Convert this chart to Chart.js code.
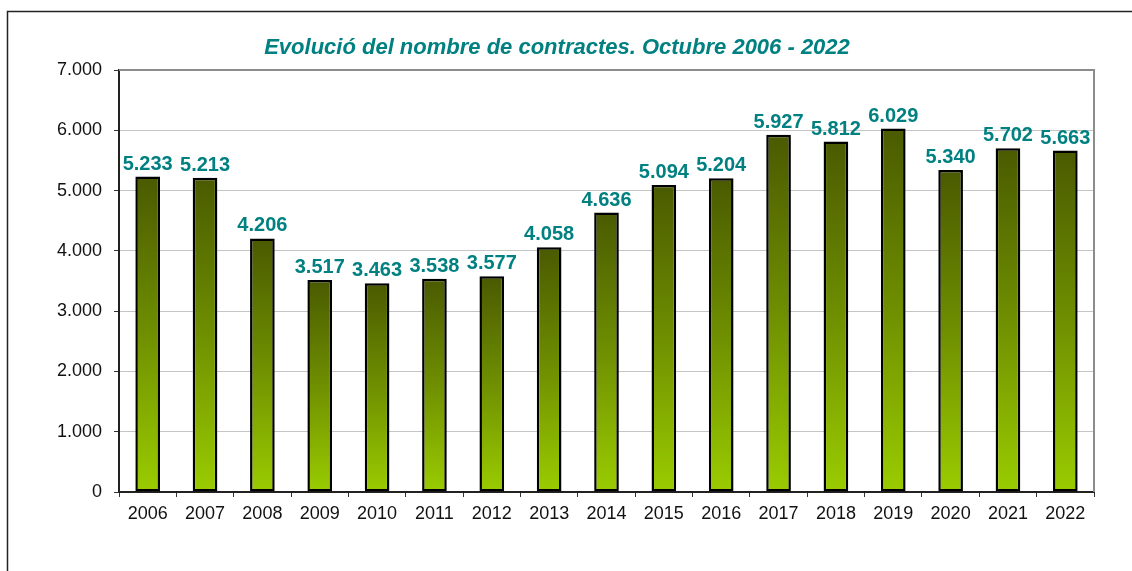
<!DOCTYPE html>
<html>
<head>
<meta charset="utf-8">
<script src="https://cdn.jsdelivr.net/npm/chart.js@4/dist/chart.umd.min.js"></script>
<style>
  html, body { margin: 0; padding: 0; background: #fff; }
  #wrap { width: 1132px; height: 571px; position: relative; }
</style>
</head>
<body>
<div id="wrap"><canvas id="chart"></canvas></div>
<script>
// Dades
const titol = 'Evolució del nombre de contractes. Octubre 2006 - 2022';
const anys = ['2006', '2007', '2008', '2009', '2010', '2011', '2012', '2013', '2014',
              '2015', '2016', '2017', '2018', '2019', '2020', '2021', '2022'];
const contractes = [5233, 5213, 4206, 3517, 3463, 3538, 3577, 4058, 4636,
                    5094, 5204, 5927, 5812, 6029, 5340, 5702, 5663];
const yMax = 7000;
const yPas = 1000;

const teal = '#008080';

// format català: punt com a separador de milers
function fmt(v) {
    return String(v).replace(/\B(?=(\d{3})+(?!\d))/g, '.');
}

// Degradat per barra (fosc a dalt, clar a baix)
function barGradient(context) {
    const chart = context.chart;
    if (!chart.chartArea || !chart.scales.y) return '#7a9a00';
    const v = context.raw;
    const yTop = chart.scales.y.getPixelForValue(v);
    const yBase = chart.scales.y.getPixelForValue(0);
    const g = chart.ctx.createLinearGradient(0, yTop, 0, yBase);
    g.addColorStop(0, '#4a5a00');
    g.addColorStop(0.5, '#6f8f00');
    g.addColorStop(1, '#9acc00');
    return g;
}

// Marc exterior, vora de l'àrea del gràfic, títol i etiquetes
const decor = {
    id: 'decor',
    beforeDraw(chart) {
        const ctx = chart.ctx;
        ctx.save();
        ctx.strokeStyle = '#222';
        ctx.lineWidth = 1.5;
        ctx.beginPath();
        ctx.moveTo(7.5, chart.height);
        ctx.lineTo(7.5, 11.5);
        ctx.lineTo(chart.width, 11.5);
        ctx.stroke();
        ctx.restore();
    },
    afterDatasetsDraw(chart) {
        const ctx = chart.ctx;
        const a = chart.chartArea;
        ctx.save();
        // vora superior i dreta en gris
        ctx.strokeStyle = '#8c8c8c';
        ctx.lineWidth = 2;
        ctx.beginPath();
        ctx.moveTo(a.left, a.top);
        ctx.lineTo(a.right, a.top);
        ctx.lineTo(a.right, a.bottom);
        ctx.stroke();

        // títol
        ctx.fillStyle = teal;
        ctx.font = 'italic bold 22px "Liberation Sans", Arial, sans-serif';
        ctx.textAlign = 'center';
        ctx.textBaseline = 'middle';
        ctx.fillText(titol, 557, 48);

        // etiquetes de valor
        ctx.font = 'bold 20px "Liberation Sans", Arial, sans-serif';
        ctx.textBaseline = 'alphabetic';
        const meta = chart.getDatasetMeta(0);
        meta.data.forEach((bar, i) => {
            ctx.fillText(fmt(contractes[i]), bar.x, bar.y - 7);
        });
        ctx.restore();
    }
};

new Chart(document.getElementById('chart'), {
    type: 'bar',
    data: {
        labels: anys,
        datasets: [{
            data: contractes,
            backgroundColor: barGradient,
            borderColor: '#000',
            borderWidth: 2.5,
            borderSkipped: false,
            categoryPercentage: 1,
            barPercentage: 0.43
        }]
    },
    options: {
        responsive: true,
        maintainAspectRatio: false,
        animation: false,
        layout: { padding: { top: 70, right: 38, bottom: 39, left: 0 } },
        plugins: {
            legend: { display: false },
            tooltip: { enabled: false }
        },
        scales: {
            x: {
                afterFit: (s) => { s.height = 40; },
                grid: {
                    offset: true,
                    drawOnChartArea: false,
                    tickLength: 5,
                    tickColor: '#333'
                },
                border: { color: '#222', width: 2 },
                ticks: {
                    color: '#111',
                    padding: 6,
                    font: { family: '"Liberation Sans", Arial, sans-serif', size: 18 }
                }
            },
            y: {
                min: 0,
                max: yMax,
                afterFit: (s) => { s.width = 119; },
                grid: {
                    color: '#c4c4c4',
                    lineWidth: 1,
                    tickLength: 5,
                    tickColor: '#333'
                },
                border: { color: '#222', width: 2 },
                ticks: {
                    stepSize: yPas,
                    color: '#111',
                    padding: 12,
                    font: { family: '"Liberation Sans", Arial, sans-serif', size: 18 },
                    callback: (v) => fmt(v)
                }
            }
        }
    },
    plugins: [decor]
});
</script>
</body>
</html>
